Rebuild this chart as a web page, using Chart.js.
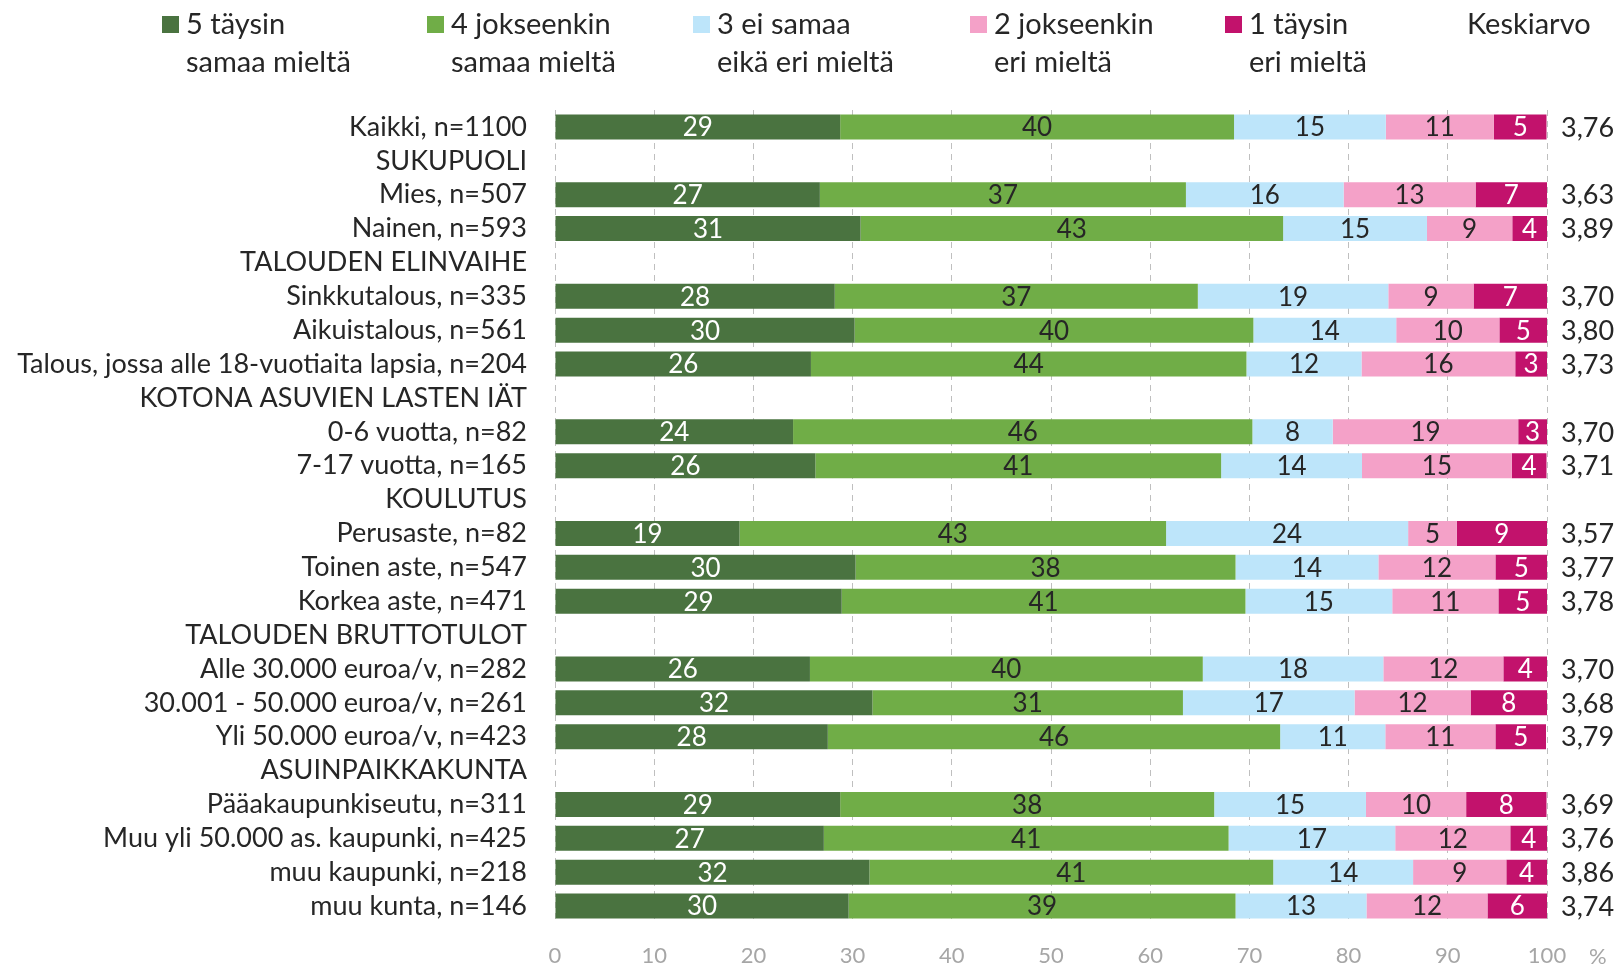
<!DOCTYPE html>
<html>
<head>
<meta charset="utf-8">
<script src="https://cdn.jsdelivr.net/npm/chart.js@4/dist/chart.umd.min.js"></script>
<style>
  html, body { margin: 0; padding: 0; background: #fff; }
  #wrap { width: 1620px; height: 967px; }
</style>
</head>
<body>
<div id="wrap"><canvas id="canvas" width="1620" height="967"></canvas></div>
<script>
  'use strict'

  var categories = [
    'Kaikki, n=1100', 'SUKUPUOLI', 'Mies, n=507', 'Nainen, n=593',
    'TALOUDEN ELINVAIHE', 'Sinkkutalous, n=335', 'Aikuistalous, n=561',
    'Talous, jossa alle 18-vuotiaita lapsia, n=204', 'KOTONA ASUVIEN LASTEN IÄT',
    '0-6 vuotta, n=82', '7-17 vuotta, n=165', 'KOULUTUS', 'Perusaste, n=82',
    'Toinen aste, n=547', 'Korkea aste, n=471', 'TALOUDEN BRUTTOTULOT',
    'Alle 30.000 euroa/v, n=282', '30.001 - 50.000 euroa/v, n=261',
    'Yli 50.000 euroa/v, n=423', 'ASUINPAIKKAKUNTA', 'Pääakaupunkiseutu, n=311',
    'Muu yli 50.000 as. kaupunki, n=425', 'muu kaupunki, n=218', 'muu kunta, n=146'
  ]

  var seriesNames = [
    ['5 täysin', 'samaa mieltä'],
    ['4 jokseenkin', 'samaa mieltä'],
    ['3 ei samaa', 'eikä eri mieltä'],
    ['2 jokseenkin', 'eri mieltä'],
    ['1 täysin', 'eri mieltä']
  ]

  var agreeFully = [28.75, null, 26.7, 30.8, null, 28.2, 30.2, 25.8, null, 24.0, 26.25, null, 18.6, 30.3, 28.9, null, 25.7, 32.0, 27.5, null, 28.75, 27.1, 31.7, 29.6]
  var agreeSomewhat = [39.7, null, 36.9, 42.6, null, 36.6, 40.2, 43.9, null, 46.3, 40.9, null, 43.0, 38.3, 40.7, null, 39.6, 31.3, 45.6, null, 37.7, 40.8, 40.7, 39.0]
  var neither = [15.3, null, 15.9, 14.5, null, 19.2, 14.4, 11.6, null, 8.1, 14.2, null, 24.4, 14.4, 14.8, null, 18.2, 17.3, 10.6, null, 15.3, 16.8, 14.1, 13.2]
  var disagreeSomewhat = [10.9, null, 13.3, 8.6, null, 8.6, 10.4, 15.5, null, 18.7, 15.1, null, 4.9, 11.8, 10.7, null, 12.1, 11.7, 11.1, null, 10.1, 11.6, 9.4, 12.2]
  var disagreeFully = [5.3, null, 7.2, 3.5, null, 7.4, 4.8, 3.2, null, 2.9, 3.5, null, 9.1, 5.2, 4.9, null, 4.4, 7.7, 5.1, null, 8.1, 3.75, 4.1, 6.0]
  var means = ['3,76', '', '3,63', '3,89', '', '3,70', '3,80', '3,73', '', '3,70', '3,71', '', '3,57', '3,77', '3,78', '', '3,70', '3,68', '3,79', '', '3,69', '3,76', '3,86', '3,74']
  var xTicks = [0, 10, 20, 30, 40, 50, 60, 70, 80, 90, 100]

  var colors = ['#4a7340', '#70ad47', '#bde5fa', '#f4a1c8', '#c2126c']
  var labelColors = ['#ffffff', '#262626', '#262626', '#262626', '#ffffff']
  var FONT = 'Lato, "Open Sans", sans-serif'
  var TEXT = '#262626'

  var legendBoxX = [162, 427, 693, 970, 1225]

  var annotations = {
    id: 'annotations',
    afterDatasetsDraw: function (chart) {
      var ctx = chart.ctx
      ctx.save()
      // bar value labels
      ctx.font = '26px ' + FONT
      ctx.textAlign = 'center'
      ctx.textBaseline = 'middle'
      chart.data.datasets.forEach(function (ds, i) {
        chart.getDatasetMeta(i).data.forEach(function (bar, j) {
          var v = ds.data[j]
          if (v === null) return
          ctx.fillStyle = labelColors[i]
          ctx.fillText(String(Math.round(v)), (bar.x + bar.base) / 2, bar.y + 1)
        })
      })
      // means column
      var yScale = chart.scales.y
      ctx.fillStyle = TEXT
      ctx.textAlign = 'left'
      ctx.font = '27px ' + FONT
      means.forEach(function (m, j) {
        if (m) ctx.fillText(m, chart.chartArea.right + 14, yScale.getPixelForValue(j) + 1)
      })
      // legend
      ctx.font = '29px ' + FONT
      ctx.textBaseline = 'middle'
      seriesNames.forEach(function (lines, i) {
        var x = legendBoxX[i]
        ctx.fillStyle = colors[i]
        ctx.fillRect(x, 16, 17, 17)
        ctx.fillStyle = TEXT
        ctx.fillText(lines[0], x + 24, 25)
        ctx.fillText(lines[1], x + 24, 63)
      })
      ctx.fillText('Keskiarvo', 1467, 25)
      // percent sign
      ctx.font = '22px ' + FONT
      ctx.fillStyle = '#a6a6a6'
      ctx.fillText('%', chart.chartArea.right + 42, 957)
      ctx.restore()
    }
  }

  var context = document.getElementById('canvas').getContext('2d')
  new Chart(context, {
    type: 'bar',
    data: {
      labels: categories,
      datasets: [agreeFully, agreeSomewhat, neither, disagreeSomewhat, disagreeFully].map(function (d, i) {
        return {
          label: seriesNames[i].join(' '),
          data: d,
          backgroundColor: colors[i],
          borderWidth: 0,
          barPercentage: 0.74,
          categoryPercentage: 1
        }
      })
    },
    options: {
      indexAxis: 'y',
      responsive: false,
      animation: false,
      layout: { padding: { top: 110, right: 73, left: 0, bottom: 0 } },
      plugins: {
        legend: { display: false },
        tooltip: { enabled: false }
      },
      scales: {
        x: {
          stacked: true,
          min: 0,
          max: 100,
          afterBuildTicks: function (axis) {
            axis.ticks = xTicks.map(function (v) { return { value: v } })
          },
          afterFit: function (axis) { axis.height = 44 },
          grid: { color: '#bfbfbf', lineWidth: 1, drawTicks: false },
          border: { display: false, dash: [6, 5] },
          ticks: {
            color: '#a6a6a6',
            padding: 20,
            font: { family: FONT, size: 22 }
          }
        },
        y: {
          stacked: true,
          afterFit: function (axis) { axis.width = 555 },
          grid: { display: false },
          border: { display: false },
          ticks: {
            color: TEXT,
            padding: 20,
            autoSkip: false,
            font: { family: FONT, size: 27 }
          }
        }
      }
    },
    plugins: [annotations]
  })
</script>
</body>
</html>
